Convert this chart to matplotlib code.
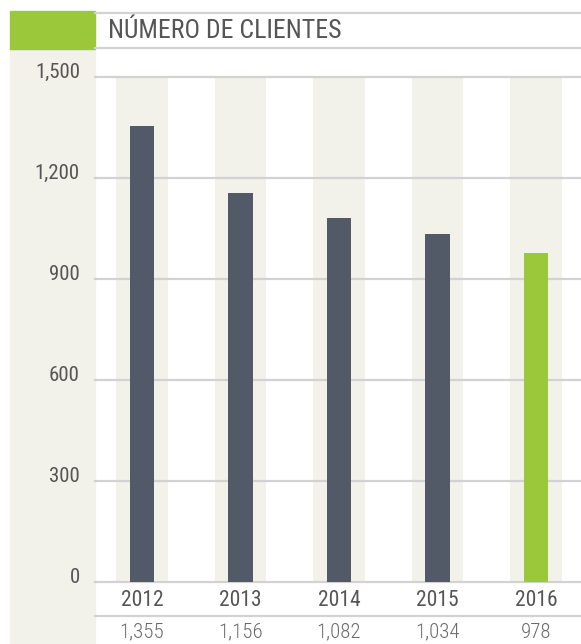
import matplotlib
matplotlib.use("Agg")
import matplotlib.pyplot as plt
import matplotlib.transforms as mtransforms
from matplotlib.patches import Rectangle
from matplotlib.lines import Line2D

plt.rcParams['font.family'] = ['Roboto Condensed', 'Barlow Semi Condensed', 'DejaVu Sans']

years = ['2012', '2013', '2014', '2015', '2016']
clientes = [1355, 1156, 1082, 1034, 978]
value_labels = ['1,355', '1,156', '1,082', '1,034', '978']
yticks = [0, 300, 600, 900, 1200, 1500]
ytick_labels = ['0', '300', '600', '900', '1,200', '1,500']
title = 'NÚMERO DE CLIENTES'

GREEN = '#9bc83a'
DARK = '#525a68'
BEIGE = '#f2f1ea'
GRID = '#d2d2d2'
TXT = '#555555'

W, H = 581, 644
fig = plt.figure(figsize=(W / 100, H / 100), dpi=100)


def fx(px):
    return px / W


def fy(py):
    return 1 - py / H


# left beige panel + green header block (behind the axes)
fig.patches.append(Rectangle((fx(10), fy(644)), fx(85), (644 - 49) / H,
                             transform=fig.transFigure, color=BEIGE, zorder=-1))
fig.patches.append(Rectangle((fx(10), fy(49)), fx(85), 38 / H,
                             transform=fig.transFigure, color=GREEN, zorder=-1))
for yy in (12.5, 48, 616):
    fig.lines.append(Line2D([fx(95), 1], [fy(yy), fy(yy)], transform=fig.transFigure,
                            color=GRID, lw=1.6))
fig.text(fx(108), fy(31), title, fontsize=18.5, color=TXT, va='center', ha='left')

# main axes
ax = fig.add_axes([fx(95), fy(582), fx(581 - 95), (582 - 77) / H])
ax.set_xlim(-0.477, 4.457)
ax.set_ylim(0, 1500)
ax.axis('off')

x = list(range(len(years)))
ax.bar(x, [yticks[-1]] * len(x), width=0.52, color=BEIGE, zorder=0)
for t in yticks:
    ax.axhline(t, color=GRID, lw=1.6, zorder=1, clip_on=False)
colors = [DARK] * (len(x) - 1) + [GREEN]
ax.bar(x, clientes, width=0.244, color=colors, zorder=2)

lbl_tr = mtransforms.blended_transform_factory(ax.transAxes, ax.transData)
lbl_tr = lbl_tr + mtransforms.ScaledTranslation(-15 / 100, 4.5 / 100, fig.dpi_scale_trans)
for t, lab in zip(yticks, ytick_labels):
    ax.text(0, t, lab, transform=lbl_tr, ha='right', va='center', fontsize=15, color=TXT)

xt = mtransforms.blended_transform_factory(ax.transData, fig.transFigure)
for xi, yr, vl in zip(x, years, value_labels):
    ax.text(xi, fy(601), yr, transform=xt, ha='center', va='center',
            fontsize=15.5, color=TXT)
    ax.text(xi, fy(632), vl, transform=xt, ha='center', va='center',
            fontsize=15, color='#6a6a6a', fontweight='light')

fig.savefig('out.png', dpi=100)
